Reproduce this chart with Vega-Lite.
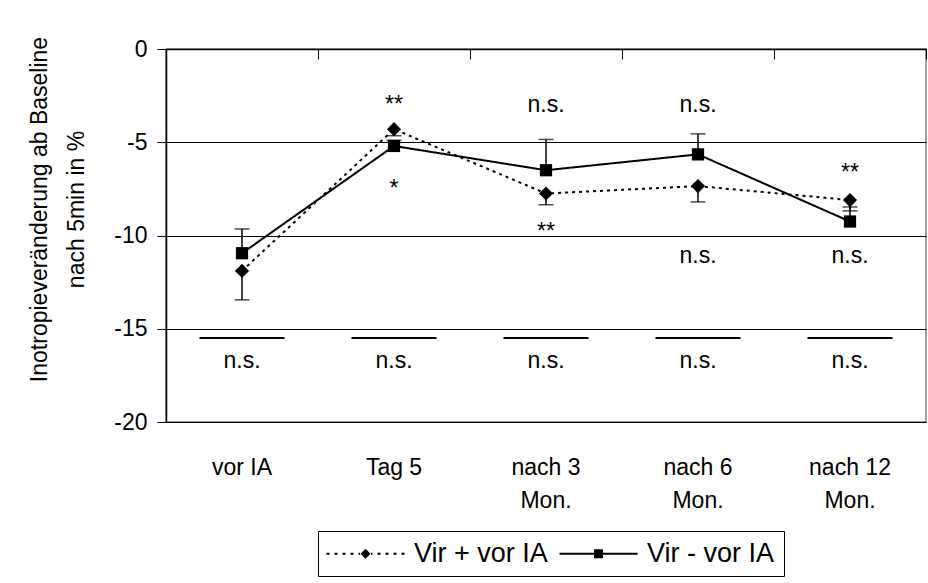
{
  "$schema": "https://vega.github.io/schema/vega-lite/v6.json",
  "width": 760,
  "height": 373,
  "autosize": "none",
  "padding": {"left": 166, "top": 49, "right": 2, "bottom": 161},
  "background": "white",
  "config": {
    "font": "Liberation Sans",
    "view": {"stroke": "#808080", "strokeWidth": 1.5},
    "axis": {"labelFont": "Liberation Sans", "titleFont": "Liberation Sans", "labelColor": "black", "titleColor": "black"},
    "axisY": {
      "grid": true, "gridColor": "black", "gridWidth": 1,
      "domain": true, "domainColor": "black", "domainWidth": 1.5, "ticks": true, "tickColor": "black", "tickSize": 9, "tickWidth": 1,
      "labelFontSize": 23, "labelPadding": 10,
      "titleFontSize": 23, "titleFontWeight": "normal", "titleX": -115, "titleY": 160, "titleLineHeight": 37
    },
    "legend": {"labelFont": "Liberation Sans"}
  },
  "datasets": {
    "pts": [
      {"cat": "vor IA", "series": "Vir + vor IA", "value": -11.9, "err": -13.45},
      {"cat": "Tag 5", "series": "Vir + vor IA", "value": -4.3, "err": -4.65},
      {"cat": "nach 3 Mon.", "series": "Vir + vor IA", "value": -7.75, "err": -8.35},
      {"cat": "nach 6 Mon.", "series": "Vir + vor IA", "value": -7.35, "err": -8.2},
      {"cat": "nach 12 Mon.", "series": "Vir + vor IA", "value": -8.1, "err": -8.68},
      {"cat": "vor IA", "series": "Vir - vor IA", "value": -10.95, "err": -9.65},
      {"cat": "Tag 5", "series": "Vir - vor IA", "value": -5.2, "err": -4.9},
      {"cat": "nach 3 Mon.", "series": "Vir - vor IA", "value": -6.5, "err": -4.85},
      {"cat": "nach 6 Mon.", "series": "Vir - vor IA", "value": -5.65, "err": -4.55},
      {"cat": "nach 12 Mon.", "series": "Vir - vor IA", "value": -9.25, "err": -8.47}
    ],
    "ann": [
      {"cat": "Tag 5", "y": -3.4, "label": "**"},
      {"cat": "nach 3 Mon.", "y": -3.4, "label": "n.s."},
      {"cat": "nach 6 Mon.", "y": -3.4, "label": "n.s."},
      {"cat": "nach 12 Mon.", "y": -7.0, "label": "**"},
      {"cat": "Tag 5", "y": -7.9, "label": "*"},
      {"cat": "nach 3 Mon.", "y": -10.2, "label": "**"},
      {"cat": "nach 6 Mon.", "y": -11.45, "label": "n.s."},
      {"cat": "nach 12 Mon.", "y": -11.45, "label": "n.s."},
      {"cat": "vor IA", "y": -17.1, "label": "n.s."},
      {"cat": "Tag 5", "y": -17.1, "label": "n.s."},
      {"cat": "nach 3 Mon.", "y": -17.1, "label": "n.s."},
      {"cat": "nach 6 Mon.", "y": -17.1, "label": "n.s."},
      {"cat": "nach 12 Mon.", "y": -17.1, "label": "n.s."}
    ],
    "bars": [
      {"cat": "vor IA", "y": -15.5},
      {"cat": "Tag 5", "y": -15.5},
      {"cat": "nach 3 Mon.", "y": -15.5},
      {"cat": "nach 6 Mon.", "y": -15.5},
      {"cat": "nach 12 Mon.", "y": -15.5}
    ]
  },
  "resolve": {"axis": {"x": "independent"}},
  "layer": [
    {
      "data": {"name": "pts"},
      "mark": {"type": "line", "color": "black", "strokeWidth": 2},
      "encoding": {
        "x": {
          "field": "cat", "type": "nominal",
          "scale": {"type": "band", "paddingInner": 0, "paddingOuter": 0, "domain": ["vor IA", "Tag 5", "nach 3 Mon.", "nach 6 Mon.", "nach 12 Mon."]},
          "axis": {
            "orient": "bottom", "title": null, "domain": false, "ticks": false, "tickSize": 0, "grid": false,
            "labelAngle": 0, "labelFontSize": 23, "labelPadding": 34, "labelLineHeight": 33,
            "labelExpr": "indexof(datum.label, ' Mon.') > 0 ? [replace(datum.label, ' Mon.', ''), 'Mon.'] : datum.label"
          }
        },
        "y": {
          "field": "value", "type": "quantitative",
          "scale": {"domain": [-20, 0], "nice": false, "zero": false},
          "axis": {"values": [0, -5, -10, -15, -20], "labelExpr": "toString(datum.value)", "title": ["Inotropieveränderung ab Baseline", "nach 5min in %"]}
        },
        "strokeDash": {
          "field": "series", "type": "nominal",
          "scale": {"domain": ["Vir + vor IA", "Vir - vor IA"], "range": [[3, 4], [1, 0]]},
          "legend": {
            "title": null, "orient": "none", "direction": "horizontal", "legendX": 152, "legendY": 482,
            "labelFontSize": 27, "labelColor": "black", "strokeColor": "black", "padding": 9,
            "symbolSize": 100, "symbolStrokeWidth": 0, "symbolStrokeColor": "black",
            "symbolOffset": 25, "labelOffset": 35, "columnPadding": 11,
            "encode": {
              "symbols": {
                "update": {
                  "shape": {"signal": "datum.value === 'Vir + vor IA' ? 'M -7.8 -0.2 L -7.2 -0.2 L -7.2 0.2 L -7.8 0.2 Z M -6.2 -0.2 L -5.6 -0.2 L -5.6 0.2 L -6.2 0.2 Z M -4.6 -0.2 L -4 -0.2 L -4 0.2 L -4.6 0.2 Z M -3 -0.2 L -2.4 -0.2 L -2.4 0.2 L -3 0.2 Z M -1.4 -0.2 L -1.1 -0.2 L -1.1 0.2 L -1.4 0.2 Z M 0 -1 L 1 0 L 0 1 L -1 0 Z M 1.1 -0.2 L 1.4 -0.2 L 1.4 0.2 L 1.1 0.2 Z M 2.4 -0.2 L 3 -0.2 L 3 0.2 L 2.4 0.2 Z M 4 -0.2 L 4.6 -0.2 L 4.6 0.2 L 4 0.2 Z M 5.6 -0.2 L 6.2 -0.2 L 6.2 0.2 L 5.6 0.2 Z M 7.2 -0.2 L 7.8 -0.2 L 7.8 0.2 L 7.2 0.2 Z' : 'M -7.8 -0.2 L 7.8 -0.2 L 7.8 0.2 L -7.8 0.2 Z M -0.9 -0.9 L 0.9 -0.9 L 0.9 0.9 L -0.9 0.9 Z'"},
                  "fill": {"value": "black"},
                  "fillOpacity": {"value": 1},
                  "stroke": {"value": "transparent"},
                  "strokeWidth": {"value": 0},
                  "opacity": {"value": 1}
                }
              }
            }
          }
        }
      }
    },
    {
      "data": {"name": "pts"},
      "mark": {"type": "rule", "color": "black", "strokeWidth": 1.5},
      "encoding": {
        "x": {"field": "cat", "type": "nominal", "axis": null},
        "y": {"field": "value", "type": "quantitative", "axis": {"values": [0, -5, -10, -15, -20], "labelExpr": "toString(datum.value)", "title": ["Inotropieveränderung ab Baseline", "nach 5min in %"]}},
        "y2": {"field": "err"}
      }
    },
    {
      "data": {"name": "pts"},
      "mark": {"type": "tick", "color": "black", "size": 15, "thickness": 1.5, "orient": "horizontal"},
      "encoding": {
        "x": {"field": "cat", "type": "nominal", "axis": null},
        "y": {"field": "err", "type": "quantitative", "axis": {"values": [0, -5, -10, -15, -20], "labelExpr": "toString(datum.value)", "title": ["Inotropieveränderung ab Baseline", "nach 5min in %"]}}
      }
    },
    {
      "data": {"name": "pts"},
      "transform": [{"filter": "datum.series === 'Vir + vor IA'"}],
      "mark": {"type": "point", "filled": true, "color": "black", "opacity": 1, "shape": "diamond", "size": 200},
      "encoding": {
        "x": {"field": "cat", "type": "nominal", "axis": null},
        "y": {"field": "value", "type": "quantitative", "axis": {"values": [0, -5, -10, -15, -20], "labelExpr": "toString(datum.value)", "title": ["Inotropieveränderung ab Baseline", "nach 5min in %"]}}
      }
    },
    {
      "data": {"name": "pts"},
      "transform": [{"filter": "datum.series === 'Vir - vor IA'"}],
      "mark": {"type": "point", "filled": true, "color": "black", "opacity": 1, "shape": "square", "size": 150},
      "encoding": {
        "x": {"field": "cat", "type": "nominal", "axis": null},
        "y": {"field": "value", "type": "quantitative", "axis": {"values": [0, -5, -10, -15, -20], "labelExpr": "toString(datum.value)", "title": ["Inotropieveränderung ab Baseline", "nach 5min in %"]}}
      }
    },
    {
      "data": {"name": "ann"},
      "mark": {"type": "text", "fontSize": 23, "color": "black", "baseline": "alphabetic", "align": "center", "font": "Liberation Sans"},
      "encoding": {
        "x": {"field": "cat", "type": "nominal", "axis": null},
        "y": {"field": "y", "type": "quantitative", "axis": {"values": [0, -5, -10, -15, -20], "labelExpr": "toString(datum.value)", "title": ["Inotropieveränderung ab Baseline", "nach 5min in %"]}},
        "text": {"field": "label"}
      }
    },
    {
      "data": {"name": "bars"},
      "mark": {"type": "tick", "color": "black", "size": 85, "thickness": 2, "orient": "horizontal", "opacity": 1},
      "encoding": {
        "x": {
          "field": "cat", "type": "nominal",
          "axis": {"orient": "top", "title": null, "labels": false, "grid": false, "domain": true, "domainColor": "black", "domainWidth": 1.5,
                   "ticks": true, "tickBand": "extent", "tickSize": -10, "tickColor": "black", "tickWidth": 1}
        },
        "y": {"field": "y", "type": "quantitative", "axis": {"values": [0, -5, -10, -15, -20], "labelExpr": "toString(datum.value)", "title": ["Inotropieveränderung ab Baseline", "nach 5min in %"]}}
      }
    }
  ]
}
